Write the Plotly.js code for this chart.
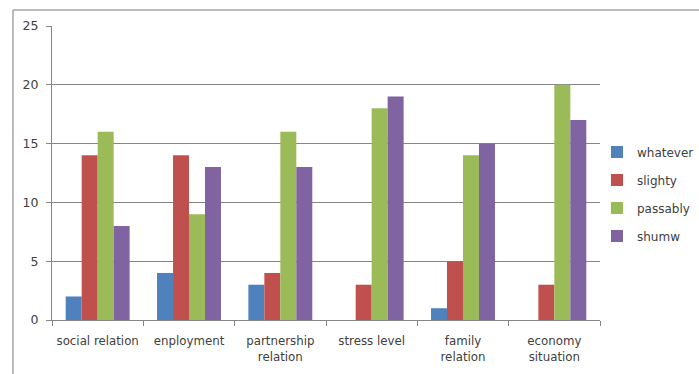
<!DOCTYPE html>
<html>
<head>
<meta charset="utf-8">
<script src="https://cdn.plot.ly/plotly-3.0.1.min.js"></script>
<style>html,body{margin:0;padding:0;background:#fff;}#chart{width:699px;height:374px;}</style>
</head>
<body>
<div id="chart"></div>
<script>
const categories = ["social relation", "enployment", "partnership<br>relation", "stress level", "family<br>relation", "economy<br>situation"];
const seriesNames = ["whatever", "slighty", "passably", "shumw"];
const whatever = [2, 4, 3, 0, 1, 0];
const slighty = [14, 14, 4, 3, 5, 3];
const passably = [16, 9, 16, 18, 14, 20];
const shumw = [8, 13, 13, 19, 15, 17];
const colors = ["#4F81BD", "#C0504D", "#9BBB59", "#8064A2"];
const yTicks = [0, 5, 10, 15, 20, 25];

const values = [whatever, slighty, passably, shumw];
const traces = values.map((v, i) => ({
  type: "bar",
  name: seriesNames[i],
  x: categories,
  y: v,
  legendgroup: "g" + i,
  marker: {color: colors[i], line: {width: 0}},
  hoverinfo: "x+y+name"
}));

const W = 699, H = 374;
const L = 52, R = 99, T = 26, B = 54;
const pw = W - L - R, ph = H - T - B;
const frameX = (13 - L) / pw;
const frameY = (H - B - 10) / ph;

const layout = {
  width: W, height: H,
  margin: {l: L, r: R, t: T, b: B, pad: 0, autoexpand: false},
  paper_bgcolor: "#ffffff",
  plot_bgcolor: "#ffffff",
  font: {family: "DejaVu Sans, Arial, sans-serif", size: 12, color: "#404040"},
  barmode: "group",
  bargap: 0.3,
  bargroupgap: 0,
  showlegend: true,
  legend: {
    xref: "container", yref: "container",
    x: 597 / W, y: (H - 194) / H, xanchor: "left", yanchor: "middle",
    traceorder: "grouped", tracegroupgap: 9,
    font: {size: 12, color: "#404040"},
    itemwidth: 30, bgcolor: "rgba(0,0,0,0)"
  },
  xaxis: {
    type: "category",
    showgrid: false,
    showline: true, linecolor: "#868686", linewidth: 1,
    ticks: "outside", tickson: "boundaries", ticklen: 5, tickcolor: "#868686",
    tickfont: {size: 11.8, color: "#404040"},
    tickangle: 0,
    ticklabelstandoff: 10,
    automargin: false,
    fixedrange: true
  },
  yaxis: {
    range: [0, 25],
    tickvals: yTicks,
    showgrid: true, gridcolor: "#868686", gridwidth: 1,
    zeroline: false,
    showline: true, linecolor: "#868686", linewidth: 1,
    ticks: "outside", ticklen: 5, tickcolor: "#868686",
    tickfont: {size: 12.5, color: "#404040"},
    ticklabelstandoff: 5,
    automargin: false,
    fixedrange: true
  },
  shapes: [
    {type: "line", xref: "paper", yref: "paper", x0: frameX, x1: frameX, y0: -0.3, y1: frameY, line: {color: "#a6a6a6", width: 1.5}},
    {type: "line", xref: "paper", yref: "paper", x0: frameX, x1: 1.3, y0: frameY, y1: frameY, line: {color: "#a6a6a6", width: 1.5}}
  ]
};

Plotly.newPlot("chart", traces, layout, {displayModeBar: false, staticPlot: true});
</script>
</body>
</html>
